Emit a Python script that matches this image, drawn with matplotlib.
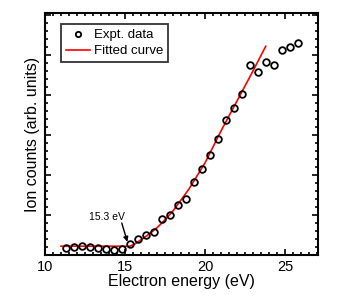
import numpy as np
import matplotlib
matplotlib.use('Agg')
import matplotlib.pyplot as plt
from matplotlib.ticker import MultipleLocator

plt.rcParams['font.family'] = ['Liberation Sans', 'DejaVu Sans']

energy = [11.3, 11.8, 12.3, 12.8, 13.3, 13.8, 14.3, 14.8, 15.3, 15.8,
          16.3, 16.8, 17.3, 17.8, 18.3, 18.8, 19.3, 19.8, 20.3, 20.8,
          21.3, 21.8, 22.3, 22.8, 23.3, 23.8, 24.3, 24.8, 25.3, 25.8]
counts = [0.18, 0.20, 0.23, 0.20, 0.17, 0.15, 0.12, 0.15, 0.28, 0.40,
          0.50, 0.58, 0.90, 1.00, 1.25, 1.39, 1.82, 2.15, 2.50, 2.89,
          3.37, 3.67, 4.02, 4.76, 4.58, 4.83, 4.75, 5.12, 5.21, 5.31]

# 拟合曲线（读取的节点）
fit_x = [11.0, 15.3, 15.6, 16.0, 16.5, 17.0, 17.5, 18.0, 19.0, 20.0, 21.0, 22.0, 23.0, 23.8]
fit_y = [0.22, 0.22, 0.27, 0.38, 0.52, 0.68, 0.88, 1.10, 1.65, 2.30, 3.10, 3.85, 4.60, 5.22]

threshold = 15.3

fig = plt.figure(figsize=(3.5, 2.98), dpi=100)
ax = fig.add_axes([0.1286, 0.1443, 0.7791, 0.8104])

ax.plot(energy, counts, 'o', mfc='none', mec='black', mew=1.3, ms=4.8,
        label='Expt. data', zorder=3)
ax.plot(fit_x, fit_y, '-', color='red', lw=1.2, label='Fitted curve', zorder=2)

# 阈值标注
ax.text(13.9, 0.95, f'{threshold} eV', fontsize=7.5, ha='center', va='center')
ax.annotate('', xy=(15.15, 0.33), xytext=(14.8, 0.8),
            arrowprops=dict(arrowstyle='-|>', color='black', lw=1.0,
                            mutation_scale=7, shrinkA=0, shrinkB=0))

ax.set_xlim(10, 27.05)
ax.set_ylim(0, 6.04)
ax.xaxis.set_major_locator(MultipleLocator(5))
ax.xaxis.set_minor_locator(MultipleLocator(0.5))
ax.yaxis.set_major_locator(MultipleLocator(1))
ax.yaxis.set_minor_locator(MultipleLocator(0.2))
ax.tick_params(which='both', direction='in', top=True, right=True, width=1.2)
ax.tick_params(which='major', length=4.5)
ax.tick_params(which='minor', length=2.5)
ax.tick_params(axis='x', labelsize=10.5, pad=3.5)
ax.tick_params(axis='y', labelleft=False)
for sp in ax.spines.values():
    sp.set_linewidth(1.5)

ax.set_xlabel('Electron energy (eV)', fontsize=11.5, labelpad=0)
ax.set_ylabel('Ion counts (arb. units)', fontsize=11.5, labelpad=0)

leg = ax.legend(loc='upper left', bbox_to_anchor=(0.06, 0.955), fontsize=9.5,
                frameon=True, fancybox=False, edgecolor='black',
                handlelength=1.8, handletextpad=0.3, borderpad=0.35,
                labelspacing=0.3, borderaxespad=0, markerscale=0.8)
leg.get_frame().set_linewidth(1.3)

fig.savefig('out.png', dpi=100)
